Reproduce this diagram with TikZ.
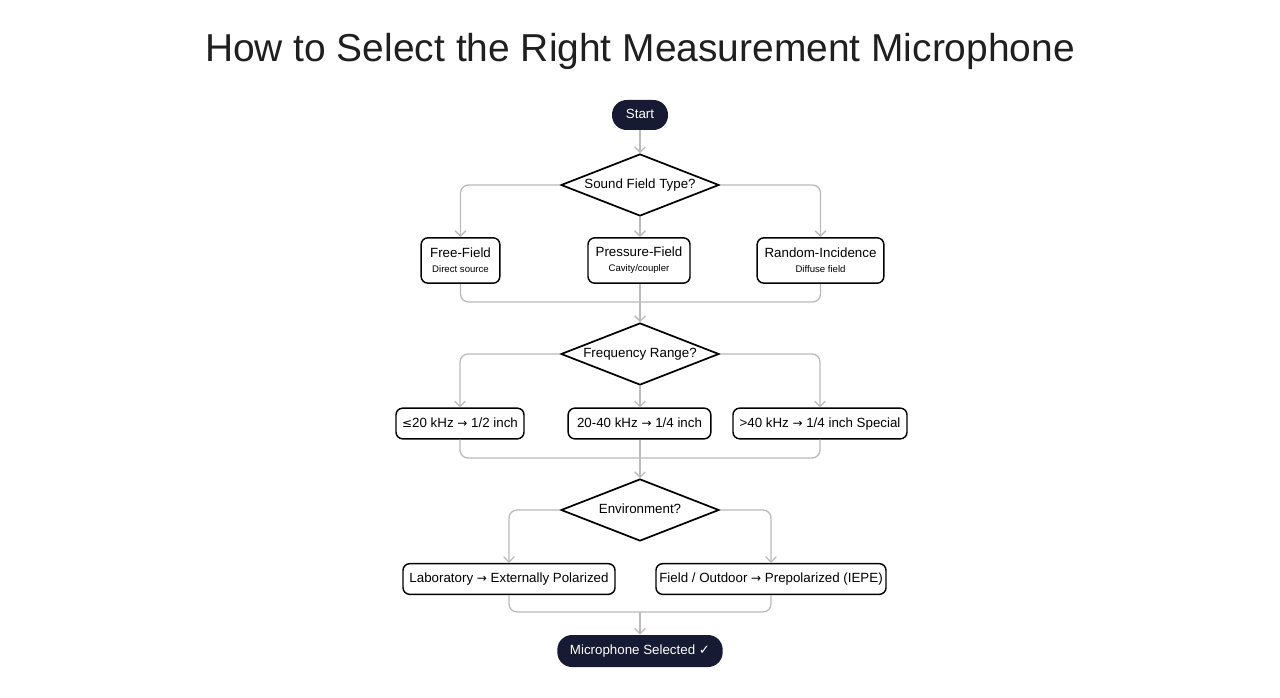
\documentclass[tikz,border=0pt]{standalone}
\usepackage{fontspec}
\setmainfont{Liberation Sans}
\newfontfamily\symf{DejaVu Sans}
\usetikzlibrary{shapes.geometric,arrows.meta}
\definecolor{dark}{HTML}{161A33}
\definecolor{conn}{HTML}{BBBBBB}
\begin{document}
\begin{tikzpicture}[x=0.75pt,y=-0.75pt,
  term/.style={rounded corners=11pt,fill=dark,text=white,font=\fontsize{10}{12}\selectfont,inner sep=0pt,text height=7.5pt,text depth=2pt},
  dec/.style={diamond,draw=black,line width=1.3pt,fill=white,aspect=2.55,inner sep=0pt,minimum width=118.5pt,minimum height=46.5pt,font=\fontsize{10}{12}\selectfont,text height=7.5pt,text depth=2pt},
  box/.style={rectangle,rounded corners=5pt,draw=black,line width=1.1pt,fill=white,inner sep=0pt,font=\fontsize{10}{12}\selectfont,align=center},
  one/.style={text height=7.5pt,text depth=2pt},
  ar/.style={draw=conn,line width=1pt,rounded corners=6pt,-{Straight Barb[length=4pt,width=8pt]}},
  ln/.style={draw=conn,line width=1pt,rounded corners=6pt}]
\fill[white] (0,0) rectangle (1280,698);
\node[text=black!88] (title) at (640,51) {\fontsize{29.2}{36}\selectfont How to Select the Right Measurement Microphone};
\node[term,minimum width=42pt,minimum height=22.5pt] (start) at (640,115) {Start};
\node[dec] (d1) at (640,185) {Sound Field Type?};
\node[box,minimum width=59pt,minimum height=34pt] (b1) at (460.5,260.5) {Free-Field\\[-1pt]{\fontsize{7.2}{9}\selectfont Direct source}};
\node[box,minimum width=76.5pt,minimum height=34pt] (b2) at (639,260.5) {Pressure-Field\\[-1pt]{\fontsize{7.2}{9}\selectfont Cavity/coupler}};
\node[box,minimum width=95pt,minimum height=34pt] (b3) at (820.5,260.5) {Random-Incidence\\[-1pt]{\fontsize{7.2}{9}\selectfont Diffuse field}};
\coordinate (m1) at (640,302);
\node[dec] (d2) at (640,354) {Frequency Range?};
\node[box,one,minimum width=96pt,minimum height=23pt] (c1) at (460,423.5) {{\symf\fontsize{9}{11}\selectfont ≤}20 kHz {\symf\fontsize{9}{11}\selectfont →} 1/2 inch};
\node[box,one,minimum width=107pt,minimum height=23pt] (c2) at (639.5,423.5) {20-40 kHz {\symf\fontsize{9}{11}\selectfont →} 1/4 inch};
\node[box,one,minimum width=130.5pt,minimum height=23pt] (c3) at (820,423.5) {>40 kHz {\symf\fontsize{9}{11}\selectfont →} 1/4 inch Special};
\coordinate (m2) at (640,458);
\node[dec] (d3) at (640,510) {Environment?};
\node[box,one,minimum width=159pt,minimum height=23pt] (e1) at (509,579) {Laboratory {\symf\fontsize{9}{11}\selectfont →} Externally Polarized};
\node[box,one,minimum width=172.5pt,minimum height=23pt] (e2) at (771,579) {Field / Outdoor {\symf\fontsize{9}{11}\selectfont →} Prepolarized (IEPE)};
\coordinate (m3) at (640,612);
\node[term,minimum width=124pt,minimum height=24pt] (fin) at (640,651) {Microphone Selected {\symf ✓}};
% connectors
\draw[ar] (start) -- (d1);
\draw[ar] (d1.west) -| (b1.north);
\draw[ar] (d1) -- (b2.north-|d1);
\draw[ar] (d1.east) -| (b3.north);
\draw[ln] (b1.south) |- (m1);
\draw[ln] (b3.south) |- (m1);
\draw[ln] (b2.south-|m1) -- (m1);
\draw[ar] (m1) -- (d2.north);
\draw[ar] (d2.west) -| (c1.north);
\draw[ar] (d2) -- (c2.north-|d2);
\draw[ar] (d2.east) -| (c3.north);
\draw[ln] (c1.south) |- (m2);
\draw[ln] (c3.south) |- (m2);
\draw[ln] (c2.south-|m2) -- (m2);
\draw[ar] (m2) -- (d3.north);
\draw[ar] (d3.west) -| (e1.north);
\draw[ar] (d3.east) -| (e2.north);
\draw[ln] (e1.south) |- (m3);
\draw[ln] (e2.south) |- (m3);
\draw[ar] (m3) -- (fin.north);
\end{tikzpicture}
\end{document}
